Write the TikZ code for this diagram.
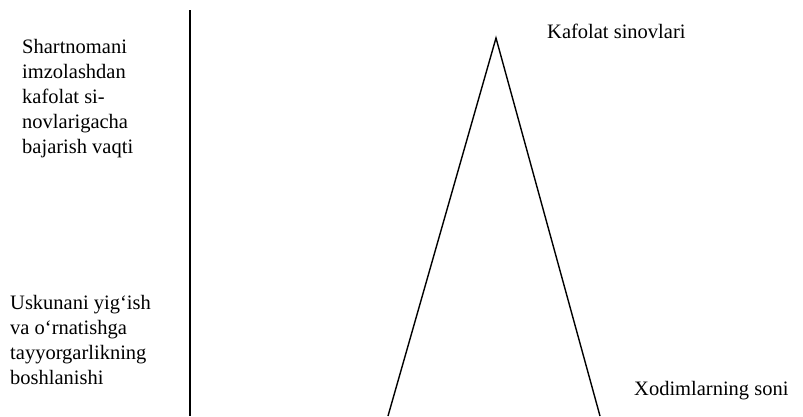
\documentclass[tikz,border=0pt]{standalone}
\usepackage{fontspec}
\setmainfont{Liberation Serif}
\begin{document}
\begin{tikzpicture}[x=1pt,y=-1pt,
  lbl/.style={inner sep=0pt, font=\fontsize{20.5}{25}\selectfont, align=left},
  ln/.style={line width=1.4pt, black}]
\useasboundingbox[fill=white] (0,0) rectangle (803,416);
% axis
\coordinate (axtop) at (190,10);
\coordinate (axbot) at (190,416);
\draw[ln] (axtop) -- (axbot);
% triangle
\coordinate (apex) at (496,38);
\coordinate (bl) at (388,416);
\coordinate (br) at (600,416);
\draw[ln, line join=miter] (bl) -- (apex) -- (br);
% labels
\node[lbl, anchor=north west] (t1) at (22,39) {Shartnomani\\imzolashdan\\kafolat si-\\novlarigacha\\bajarish vaqti};
\node[lbl, anchor=north west] (t2) at (10,295) {Uskunani yig‘ish\\va o‘rnatishga\\tayyorgarlikning\\boshlanishi};
\node[lbl, anchor=base west] (k) at (547,38) {Kafolat sinovlari};
\node[lbl, anchor=base west] (x) at (634,395) {Xodimlarning soni};
\end{tikzpicture}
\end{document}
